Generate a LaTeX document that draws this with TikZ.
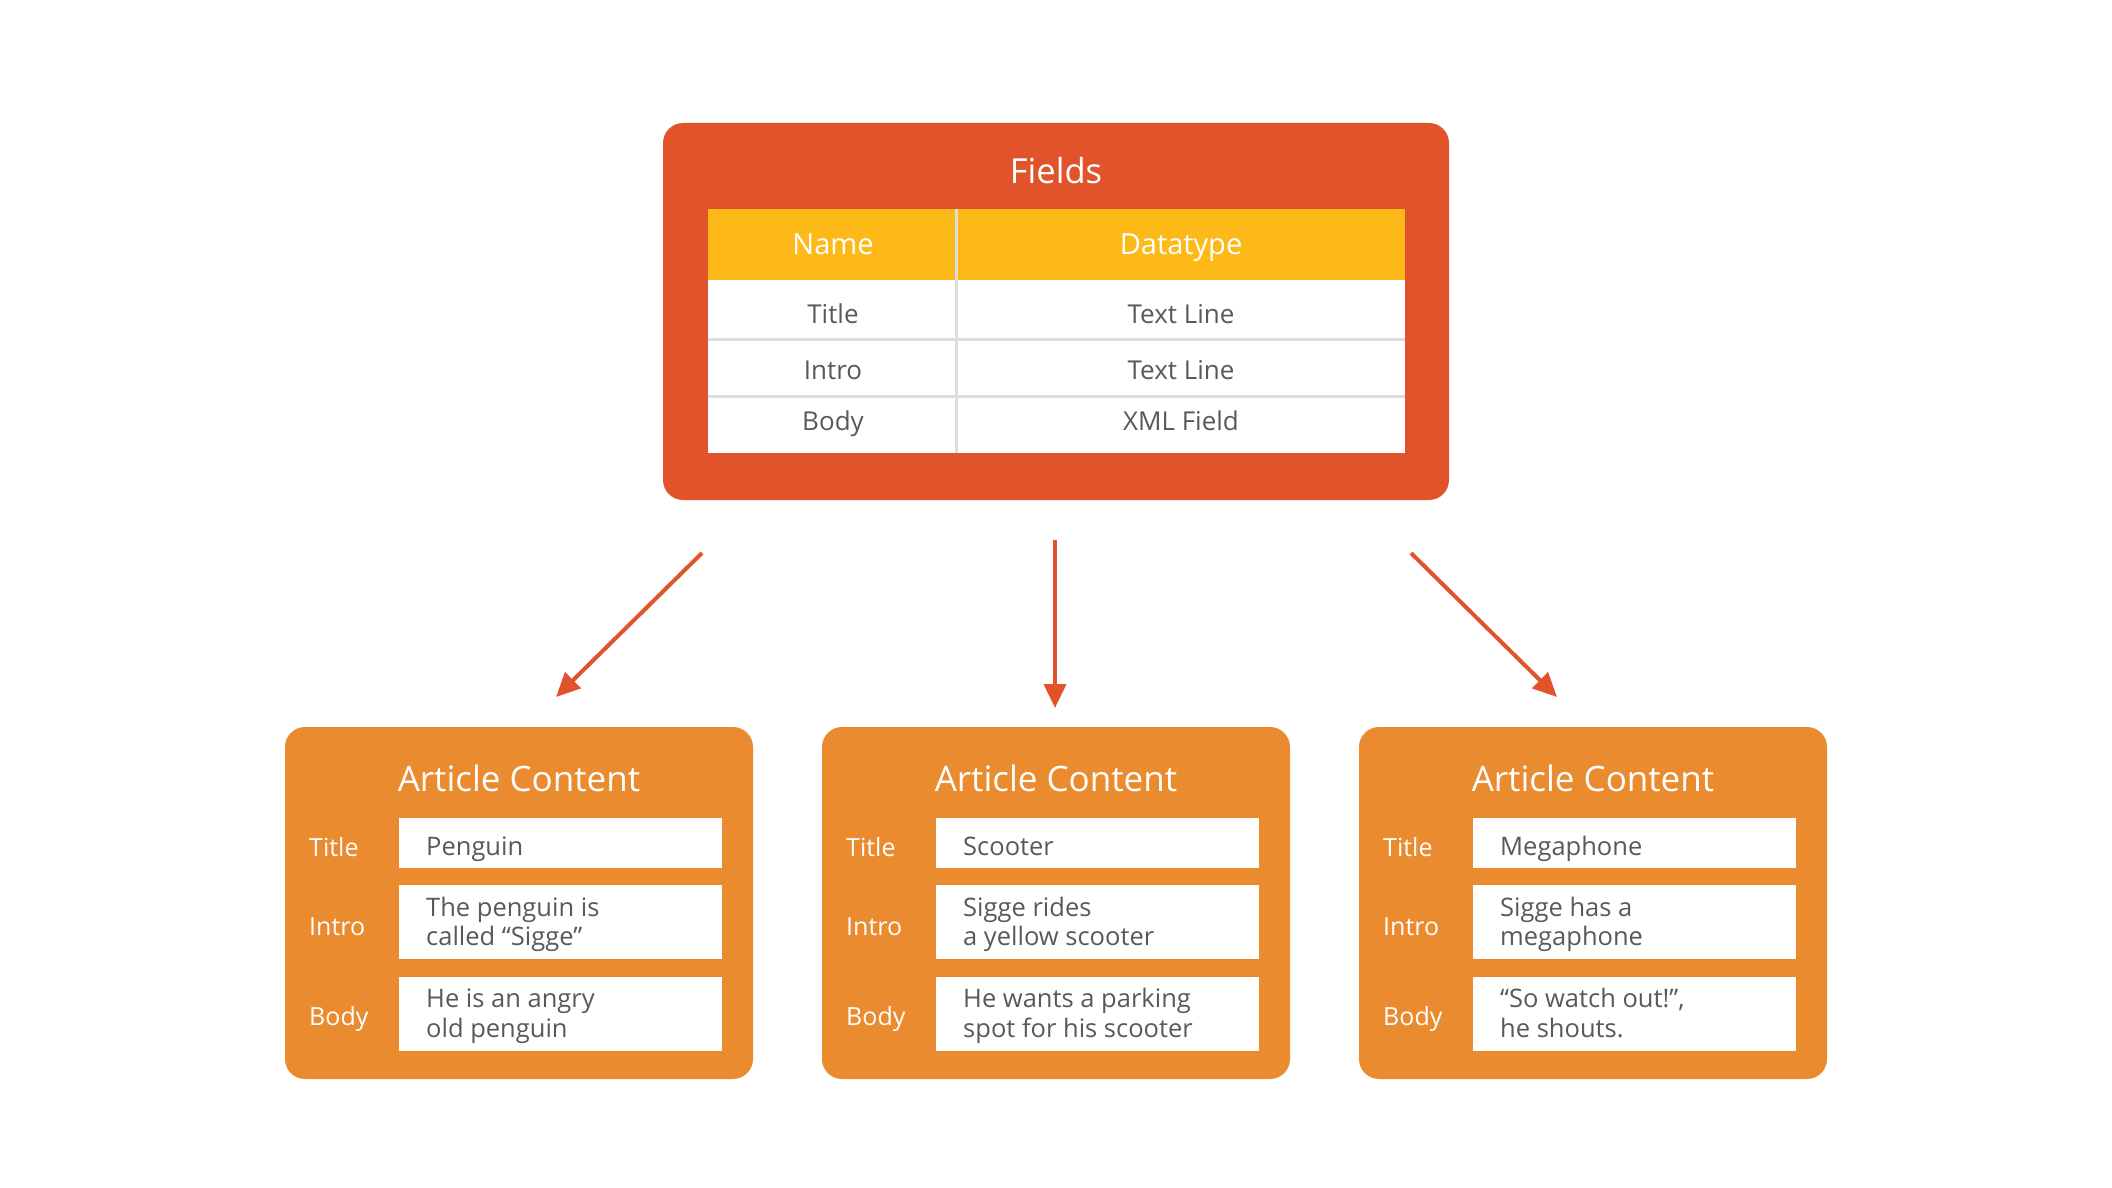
\documentclass[tikz,border=0pt]{standalone}
\usepackage{fontspec}
\setmainfont{Open Sans}
\usetikzlibrary{arrows.meta}

\definecolor{fieldsred}{HTML}{E0532B}
\definecolor{headeryellow}{HTML}{FCB918}
\definecolor{articleorange}{HTML}{EB8B2F}
\definecolor{textgray}{HTML}{58595B}
\definecolor{linegray}{HTML}{DEDEDE}

\newcommand{\pxfont}[2]{\fontsize{#1}{#2}\selectfont}

\tikzset{
    box/.style={fill=#1, rounded corners=20pt, inner sep=0pt},
    headtext/.style={anchor=base, inner sep=0pt, text=white, font=\pxfont{29}{33}},
    rowtext/.style={anchor=base, inner sep=0pt, text=textgray, font=\pxfont{26}{30}},
    label/.style={anchor=base west, inner sep=0pt, text=white, font=\pxfont{25}{29}},
    entry/.style={fill=white, inner sep=0pt, minimum width=323},
    entrytext/.style={anchor=base west, inner sep=0pt, text=textgray, font=\pxfont{25.5}{29}},
    arrowline/.style={draw=fieldsred, line width=4pt, -{Triangle[length=24pt,width=22pt]}},
}

\begin{document}
\begin{tikzpicture}[x=1pt,y=-1pt]
    \useasboundingbox (0,0) rectangle (2112,1188);

    % fields definition
    \node[box=fieldsred, minimum width=786, minimum height=377] (fields) at (1056,311.5) {};
    \node[anchor=base, inner sep=0pt, text=white, font=\pxfont{34.5}{38}] (fieldstitle) at (1056,183) {Fields};
    \fill[headeryellow] (708,209) rectangle (1405,280);
    \fill[white] (708,280) rectangle (1405,453);
    \foreach \y in {339, 396}{
            \draw[linegray, line width=3pt] (708,\y) -- (1405,\y);
        }
    \draw[linegray, line width=3pt] (956,209) -- (956,453);
    \node[headtext] (nameh) at (833,254) {Name};
    \node[headtext] (typeh) at (1181,254) {Datatype};
    \foreach \fname/\ftype/\y [count=\r] in {Title/Text Line/323, Intro/Text Line/379, Body/XML Field/430}{
            \node[rowtext] (fname\r) at (833,\y) {\fname};
            \node[rowtext] (ftype\r) at (1181,\y) {\ftype};
        }

    % arrows
    \coordinate (la) at (702,553);
    \coordinate (lb) at (556,697);
    \coordinate (ma) at (1055,540);
    \coordinate (mb) at (1055,708);
    \coordinate (ra) at (1411,553);
    \coordinate (rb) at (1557,697);
    \draw[arrowline] (la) -- (lb);
    \draw[arrowline] (ma) -- (mb);
    \draw[arrowline] (ra) -- (rb);

    % article contents
    \foreach \atitle/\ia/\ib/\ba/\bb [count=\n] in {
            Penguin/The penguin is/called “Sigge”/He is an angry/old penguin,
            Scooter/Sigge rides/a yellow scooter/He wants a parking/spot for his scooter,
            Megaphone/Sigge has a/megaphone/{“So watch out!”,}/he shouts.}{
            \pgfmathsetmacro{\bx}{285+537*(\n-1)}
            \node[box=articleorange, minimum width=468, minimum height=352] (art\n) at (\bx+234,903) {};
            \node[anchor=base, inner sep=0pt, text=white, font=\pxfont{35}{40}] (arthead\n) at (\bx+234,791) {Article Content};
            \node[entry, minimum height=50] (etitle\n) at (\bx+275.5,843) {};
            \node[entry, minimum height=74] (eintro\n) at (\bx+275.5,922) {};
            \node[entry, minimum height=74] (ebody\n) at (\bx+275.5,1014) {};
            \node[entrytext] (ttitle\n) at (\bx+141,855) {\atitle};
            \node[entrytext] (tintroa\n) at (\bx+141,916) {\ia};
            \node[entrytext] (tintrob\n) at (\bx+141,945) {\ib};
            \node[entrytext] (tbodya\n) at (\bx+141,1007) {\ba};
            \node[entrytext] (tbodyb\n) at (\bx+141,1037) {\bb};
            \node[label] (ltitle\n) at (\bx+24,856) {Title};
            \node[label] (lintro\n) at (\bx+24,935) {Intro};
            \node[label] (lbody\n) at (\bx+24,1025) {Body};
        }
\end{tikzpicture}
\end{document}
